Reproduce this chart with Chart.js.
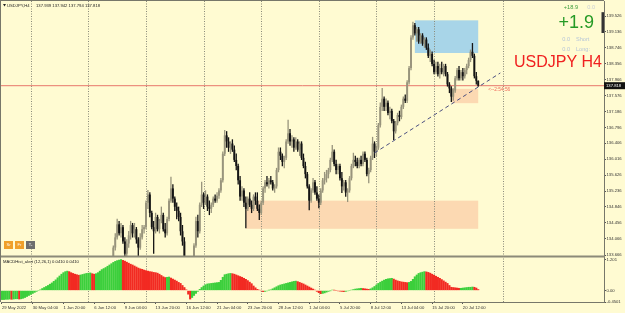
<!DOCTYPE html>
<html>
<head>
<meta charset="utf-8">
<script src="https://cdn.jsdelivr.net/npm/chart.js@4.4.1/dist/chart.umd.min.js"></script>
<style>
  html, body { margin: 0; padding: 0; background: #fffbd2; }
  #wrap { width: 625px; height: 313px; }
</style>
</head>
<body>
<div id="wrap"><canvas id="chart" width="625" height="313"></canvas></div>
<script>
// USDJPY H4 candles, bar index of the first candle that reaches the visible range
const firstCandleBar = 58;
const opens = [
  133.55,133.85,134.10,134.42,134.20,134.35,134.00,133.70,133.95,134.15,
  134.40,134.20,134.30,134.05,133.85,134.10,134.30,134.35,134.95,135.15,
  134.70,134.35,134.25,134.60,134.30,134.50,134.65,134.30,134.20,134.55,
  135.00,135.30,135.05,134.85,134.75,134.60,134.25,134.00,133.55,133.30,
  133.40,133.45,133.55,133.90,134.50,134.25,134.90,135.15,134.95,135.10,
  134.85,134.80,134.90,135.05,135.00,135.12,135.25,135.50,136.15,136.60,
  136.45,136.30,136.40,136.25,136.00,135.85,135.50,135.10,135.25,134.95,
  134.80,135.05,134.90,134.80,135.10,135.00,134.80,134.70,134.95,135.30,
  135.45,135.40,135.50,135.45,135.30,135.35,135.75,136.20,136.10,135.95,
  136.05,136.45,136.65,136.45,136.50,136.30,136.45,136.25,136.40,136.05,
  135.85,135.65,135.35,135.00,135.25,135.45,135.20,135.05,134.95,135.25,
  135.50,135.55,135.65,135.75,136.00,136.20,135.90,135.75,135.85,135.55,
  135.35,135.45,135.20,135.25,135.55,135.85,136.00,135.95,135.85,136.00,
  135.90,136.15,136.00,135.65,135.75,136.05,136.40,136.20,136.30,136.85,
  137.30,137.50,137.30,137.40,137.15,137.20,136.95,136.70,136.90,137.10,
  137.05,137.30,137.50,137.45,137.90,138.25,139.00,139.30,139.10,139.20,
  138.90,139.05,138.85,138.95,138.75,138.55,138.60,138.35,138.15,138.30,
  138.10,138.25,138.15,138.30,138.10,137.85,137.75,137.55,137.70,138.00,
  138.20,138.00,138.15,138.05,138.20,138.30,138.45,138.65,138.55,138.05,
  137.939
];
const highs = [
  133.90,134.20,134.55,134.50,134.45,134.40,134.10,134.05,134.25,134.50,
  134.45,134.45,134.35,134.10,134.20,134.40,134.40,135.00,135.26,135.20,
  134.75,134.50,134.70,134.65,134.55,134.85,134.70,134.45,134.60,135.05,
  135.58,135.40,135.10,134.95,134.85,134.70,134.40,134.10,133.60,133.55,
  133.58,133.60,133.95,134.60,134.65,134.95,135.46,135.20,135.25,135.15,
  135.00,134.95,135.10,135.15,135.20,135.30,135.55,136.20,136.73,136.70,
  136.55,136.45,136.50,136.35,136.15,135.90,135.60,135.35,135.30,135.10,
  135.10,135.20,135.00,135.15,135.20,135.20,134.90,135.00,135.35,135.50,
  135.60,135.55,135.60,135.50,135.40,135.80,136.30,136.30,136.15,136.10,
  136.50,136.98,136.75,136.60,136.55,136.55,136.50,136.45,136.45,136.15,
  135.95,135.70,135.40,135.30,135.55,135.50,135.35,135.15,135.30,135.55,
  135.70,135.75,135.80,136.05,136.36,136.25,136.00,135.90,135.90,135.70,
  135.50,135.50,135.30,135.60,135.90,136.17,136.10,136.05,136.05,136.10,
  136.20,136.20,136.05,135.80,136.10,136.56,136.45,136.35,136.90,137.40,
  137.76,137.55,137.50,137.45,137.30,137.25,137.00,136.95,137.15,137.20,
  137.35,137.55,137.60,137.95,138.30,139.05,139.38,139.35,139.25,139.25,
  139.10,139.10,139.00,139.00,138.85,138.70,138.65,138.45,138.40,138.40,
  138.35,138.40,138.35,138.35,138.15,137.90,137.80,137.75,138.05,138.25,
  138.30,138.20,138.25,138.25,138.35,138.50,138.70,138.86,138.60,138.15,
  137.942
];
const lows = [
  133.50,133.78,134.05,134.15,134.10,133.95,133.62,133.60,133.85,134.05,
  134.10,134.10,133.95,133.65,133.80,134.05,134.20,134.30,134.80,134.60,
  134.30,133.70,134.20,134.25,134.20,134.45,134.25,134.10,134.15,134.50,
  134.95,134.95,134.75,134.55,134.50,134.15,133.90,133.50,133.20,133.10,
  133.05,133.20,133.45,133.85,134.10,134.20,134.85,134.80,134.90,134.75,
  134.65,134.70,134.85,134.95,134.95,135.05,135.20,135.45,136.10,136.30,
  136.20,136.15,136.20,135.95,135.75,135.40,135.00,135.00,134.85,134.33,
  134.75,134.85,134.70,134.75,134.90,134.75,134.53,134.65,134.90,135.20,
  135.35,135.30,135.40,135.25,135.20,135.30,135.70,136.00,135.85,135.80,
  136.00,136.40,136.35,136.30,136.20,136.25,136.20,136.10,136.00,135.80,
  135.55,135.30,134.77,134.95,135.20,135.15,135.00,134.82,134.90,135.20,
  135.40,135.45,135.55,135.70,135.95,135.85,135.65,135.65,135.50,135.19,
  135.25,135.10,134.97,135.20,135.50,135.80,135.85,135.80,135.80,135.85,
  135.85,135.95,135.60,135.43,135.70,136.00,136.05,136.10,136.25,136.80,
  137.20,137.20,137.20,137.10,137.00,136.90,136.49,136.65,136.85,136.95,
  137.00,137.25,137.40,137.40,137.85,138.20,138.95,139.05,138.90,138.85,
  138.85,138.80,138.75,138.70,138.50,138.40,138.30,138.10,138.10,138.05,
  138.00,138.10,138.05,138.05,137.80,137.64,137.42,137.45,137.65,137.95,
  137.95,137.95,137.95,138.00,138.10,138.25,138.40,138.50,138.00,137.85,
  137.794
];
const closes = [
  133.85,134.10,134.42,134.20,134.35,134.00,133.70,133.95,134.15,134.40,
  134.20,134.30,134.05,133.85,134.10,134.30,134.35,134.95,135.15,134.70,
  134.35,134.25,134.60,134.30,134.50,134.65,134.30,134.20,134.55,135.00,
  135.30,135.05,134.85,134.75,134.60,134.25,134.00,133.55,133.30,133.40,
  133.45,133.55,133.90,134.50,134.25,134.90,135.15,134.95,135.10,134.85,
  134.80,134.90,135.05,135.00,135.12,135.25,135.50,136.15,136.60,136.45,
  136.30,136.40,136.25,136.00,135.85,135.50,135.10,135.25,134.95,134.80,
  135.05,134.90,134.80,135.10,135.00,134.80,134.70,134.95,135.30,135.45,
  135.40,135.50,135.45,135.30,135.35,135.75,136.20,136.10,135.95,136.05,
  136.45,136.65,136.45,136.50,136.30,136.45,136.25,136.40,136.05,135.85,
  135.65,135.35,135.00,135.25,135.45,135.20,135.05,134.95,135.25,135.50,
  135.55,135.65,135.75,136.00,136.20,135.90,135.75,135.85,135.55,135.35,
  135.45,135.20,135.25,135.55,135.85,136.00,135.95,135.85,136.00,135.90,
  136.15,136.00,135.65,135.75,136.05,136.40,136.20,136.30,136.85,137.30,
  137.50,137.30,137.40,137.15,137.20,136.95,136.70,136.90,137.10,137.05,
  137.30,137.50,137.45,137.90,138.25,139.00,139.30,139.10,139.20,138.90,
  139.05,138.85,138.95,138.75,138.55,138.60,138.35,138.15,138.30,138.10,
  138.25,138.15,138.30,138.10,137.85,137.75,137.55,137.70,138.00,138.20,
  138.00,138.15,138.05,138.20,138.30,138.45,138.65,138.55,138.05,137.939,
  137.818
];

// MACD histogram, one value per bar from bar 0
const macdHist = [
  -0.36,-0.36,-0.35,-0.35,-0.34,-0.35,-0.34,-0.33,-0.33,-0.34,
  -0.33,-0.31,-0.28,-0.24,-0.20,-0.16,-0.12,-0.08,-0.04,0.00,
  0.03,0.08,0.12,0.16,0.20,0.25,0.30,0.36,0.42,0.50,
  0.57,0.64,0.70,0.74,0.76,0.74,0.70,0.67,0.64,0.62,
  0.60,0.61,0.63,0.65,0.67,0.68,0.69,0.66,0.64,0.66,
  0.70,0.76,0.82,0.86,0.90,0.95,1.00,1.05,1.10,1.14,
  1.17,1.19,1.21,1.18,1.15,1.11,1.07,1.03,1.00,0.96,
  0.92,0.88,0.85,0.83,0.80,0.78,0.76,0.74,0.73,0.71,
  0.70,0.68,0.64,0.59,0.54,0.51,0.52,0.53,0.49,0.45,
  0.41,0.37,0.32,0.28,0.20,0.12,0.03,-0.15,-0.34,-0.28,
  -0.20,-0.12,-0.04,0.05,0.12,0.18,0.23,0.26,0.27,0.28,
  0.29,0.30,0.31,0.32,0.40,0.52,0.62,0.64,0.66,0.67,
  0.66,0.64,0.61,0.58,0.55,0.52,0.48,0.44,0.39,0.33,
  0.27,0.18,0.11,0.05,0.02,-0.02,-0.05,-0.04,-0.02,0.01,
  0.03,0.07,0.11,0.15,0.19,0.22,0.24,0.26,0.28,0.30,
  0.32,0.34,0.36,0.37,0.35,0.32,0.29,0.26,0.22,0.18,
  0.14,0.10,0.06,0.02,-0.04,-0.09,-0.13,-0.12,-0.10,-0.07,
  -0.04,-0.01,0.02,0.01,0.00,-0.02,-0.03,-0.04,-0.05,-0.04,
  -0.02,0.00,0.02,0.04,0.06,0.07,0.08,0.09,0.08,0.07,
  0.06,0.05,0.07,0.11,0.16,0.22,0.28,0.33,0.37,0.41,
  0.44,0.46,0.47,0.48,0.45,0.41,0.38,0.36,0.34,0.33,
  0.32,0.31,0.32,0.36,0.44,0.54,0.61,0.67,0.70,0.72,
  0.74,0.73,0.71,0.68,0.64,0.60,0.56,0.52,0.48,0.43,
  0.38,0.33,0.28,0.20,0.13,0.12,0.11,0.10,0.09,0.09,
  0.10,0.11,0.12,0.13,0.13,0.14,0.13,0.10,0.041
];

const totalSlots = 314;
const lastPrice = 137.818;
const priceTicks = [139.526,139.136,138.746,138.356,137.966,137.576,137.186,136.796,
                    136.406,136.016,135.626,135.236,134.846,134.456,134.066,133.666];
const macdTicks = [1.201, 0, -0.4501];
const macdTickLabels = ['1.201', '0.00', '-0.4501'];
const timeTickBars = [0,16,32,48,64,80,96,112,128,144,160,176,192,208,224,240];
const timeTickLabels = ['29 May 2022','30 May 04:00','1 Jun 20:00','6 Jun 12:00','9 Jun 04:00',
  '13 Jun 20:00','16 Jun 12:00','21 Jun 04:00','23 Jun 20:00','28 Jun 12:00','1 Jul 04:00',
  '5 Jul 20:00','8 Jul 12:00','13 Jul 04:00','15 Jul 20:00','20 Jul 12:00'];
const weekStartBars = [15,45,75,105,135,165,195,225,261];

// drawn objects: supply / demand zones and the trend line
const zoneBars = [[127.1, 248], [215, 248], [234.4, 248]];
const zonePrices = [[135.00, 134.31], [139.42, 138.62], [137.74, 137.39]];
const trendBars = [194, 259.5];
const trendPrices = [136.17, 138.13];

const FONT = "'Liberation Sans', Arial, sans-serif";
const BULL = '#98947c', BEAR = '#141414';
const GREEN = '#3ccf3c', RED = '#f22a22';

const wickData = [], bodyData = [], candleColors = [];
opens.forEach((o, k) => {
  const c = closes[k];
  wickData.push({ x: firstCandleBar + k, y: [lows[k], highs[k]] });
  bodyData.push({ x: firstCandleBar + k, y: [Math.min(o, c), Math.max(o, c)] });
  candleColors.push(c >= o ? BULL : BEAR);
});
const macdData = macdHist.map((v, i) => ({ x: i, y: v }));
const macdColors = macdHist.map((v, i) => (i > 0 && v < macdHist[i - 1]) ? RED : GREEN);

// keep each dataset inside its own pane
const paneClip = {
  id: 'paneClip',
  beforeDatasetDraw(chart, args) {
    const s = chart.scales[args.meta.yAxisID];
    const a = chart.chartArea;
    chart.ctx.save();
    chart.ctx.beginPath();
    chart.ctx.rect(a.left, s.top, a.right - a.left, s.bottom - s.top);
    chart.ctx.clip();
  },
  afterDatasetDraw(chart) { chart.ctx.restore(); }
};

const terminalLook = {
  id: 'terminalLook',
  beforeDraw(chart) {
    const ctx = chart.ctx;
    ctx.save();
    ctx.fillStyle = '#fffbd2';
    ctx.fillRect(0, 0, chart.width, chart.height);
    ctx.restore();
  },
  beforeDatasetsDraw(chart) {
    const { ctx, chartArea: a } = chart;
    const { x, y } = chart.scales;
    const zoneColors = ['#fcd9b2', '#a8d5e8', '#fcd9b2'];
    ctx.save();
    zoneBars.forEach((b, k) => {
      const x0 = x.getPixelForValue(b[0]), x1 = x.getPixelForValue(b[1]);
      const y0 = y.getPixelForValue(zonePrices[k][0]), y1 = y.getPixelForValue(zonePrices[k][1]);
      ctx.fillStyle = zoneColors[k];
      ctx.fillRect(x0, y0, x1 - x0, y1 - y0);
    });
    ctx.strokeStyle = '#8a8a7a';
    ctx.lineWidth = 1;
    ctx.setLineDash([1, 1.5]);
    weekStartBars.forEach(b => {
      const px = Math.round(x.getPixelForValue(b)) + 0.5;
      ctx.beginPath();
      ctx.moveTo(px, a.top);
      ctx.lineTo(px, a.bottom);
      ctx.stroke();
    });
    ctx.restore();
  },
  afterDatasetsDraw(chart) {
    const { ctx, chartArea: a } = chart;
    const { y } = chart.scales;
    ctx.save();
    // pane separator and frame
    ctx.fillStyle = '#8c8a78';
    ctx.fillRect(0, y.bottom - 1.5, a.right + 1, 2);
    ctx.strokeStyle = '#77776a';
    ctx.lineWidth = 1;
    ctx.beginPath();
    ctx.moveTo(0.5, 0); ctx.lineTo(0.5, a.bottom);
    ctx.moveTo(0, 0.5); ctx.lineTo(a.right, 0.5);
    ctx.stroke();
    ctx.restore();
  },
  afterDraw(chart) {
    const { ctx, chartArea: a } = chart;
    const { x, y } = chart.scales;
    const text = (t, px, py, size, color, align, base, weight) => {
      ctx.font = (weight || '') + ' ' + size + 'px ' + FONT;
      ctx.fillStyle = color;
      ctx.textAlign = align || 'left';
      ctx.textBaseline = base || 'middle';
      ctx.fillText(t, px, py);
    };
    ctx.save();
    // header
    ctx.fillStyle = '#222';
    ctx.beginPath();
    ctx.moveTo(3, 4); ctx.lineTo(6, 4); ctx.lineTo(4.5, 6.5); ctx.closePath(); ctx.fill();
    text('USDJPY,H4', 7, 5.5, 4.2, '#222');
    text('137.939 137.942 137.794 137.818', 36, 5.5, 4.2, '#222');
    text('MACDHist_alert (12,26,1) 0.0410 0.0410', 3, 262, 4.2, '#222');

    // current price tag on the axis
    const py = y.getPixelForValue(lastPrice);
    ctx.fillStyle = '#111';
    ctx.fillRect(a.right, py - 3.5, 21, 7);
    text(lastPrice.toFixed(3), a.right + 2, py + 0.3, 4.2, '#fff');
    ctx.fillStyle = '#333';
    ctx.fillRect(a.right - 2.5, y.getPixelForValue(139.62), 2.5,
                 y.getPixelForValue(139.11) - y.getPixelForValue(139.62));

    // countdown next to the last bar
    text('<--2:54:56', x.getPixelForValue(firstCandleBar + closes.length - 1) + 10, py + 3.5, 4.8, '#f06a5a');

    // signal panel top right
    text('+18.9', 578, 7, 5.6, '#3c9c3c', 'right');
    text('0.0', 595, 7, 5.6, '#c9cfd6', 'right');
    text('+1.9', 594, 28, 18, '#259a25', 'right', 'alphabetic');
    text('0.0', 570, 39, 5.6, '#b6c6d8', 'right');
    text('Short', 576, 39, 5.6, '#b6c6d8');
    text('0.0', 570, 49, 5.6, '#b6c6d8', 'right');
    text('Long:', 576, 49, 5.6, '#b6c6d8');
    text('USDJPY H4', 602, 67, 16, '#f02020', 'right', 'alphabetic');

    // chart buttons
    const btn = (label, bx, color) => {
      ctx.fillStyle = color;
      ctx.fillRect(bx, 241, 9, 8);
      text(label, bx + 4.5, 245.2, 4, '#fff', 'center');
    };
    btn('Sr', 4, '#f0a02a');
    btn('Fr', 15, '#f0a02a');
    btn('T-', 26, '#6e6e6e');
    ctx.restore();
  }
};

const axisFont = { family: FONT, size: 4.2 };

new Chart(document.getElementById('chart'), {
  type: 'bar',
  data: {
    datasets: [
      {
        type: 'line', label: 'trend', yAxisID: 'y', order: 0,
        data: trendBars.map((b, k) => ({ x: b, y: trendPrices[k] })),
        borderColor: '#4c5080', borderWidth: 1, borderDash: [4, 3], pointRadius: 0
      },
      {
        type: 'line', label: 'bid', yAxisID: 'y', order: 5,
        data: [{ x: -0.5, y: lastPrice }, { x: totalSlots - 0.5, y: lastPrice }],
        borderColor: '#e8776c', borderWidth: 1, pointRadius: 0
      },
      {
        label: 'wicks', yAxisID: 'y', order: 3, data: wickData, grouped: false,
        backgroundColor: candleColors, barThickness: 1, inflateAmount: 0.15, minBarLength: 1
      },
      {
        label: 'bodies', yAxisID: 'y', order: 2, data: bodyData, grouped: false,
        backgroundColor: candleColors, barPercentage: 1, categoryPercentage: 1,
        inflateAmount: 0, minBarLength: 1
      },
      {
        label: 'MACD', yAxisID: 'y2', order: 3, data: macdData, grouped: false,
        backgroundColor: macdColors, barPercentage: 0.9, categoryPercentage: 1,
        inflateAmount: 0.2
      }
    ]
  },
  options: {
    responsive: false,
    animation: false,
    devicePixelRatio: 1,
    events: [],
    layout: { padding: { top: 1, left: 1, right: 0, bottom: 0 } },
    plugins: { legend: { display: false }, tooltip: { enabled: false } },
    scales: {
      x: {
        type: 'linear', position: 'bottom', min: -0.5, max: totalSlots - 0.5,
        offset: false, bounds: 'data',
        afterBuildTicks: s => { s.ticks = timeTickBars.map(v => ({ value: v })); },
        afterFit: s => { s.height = 11; s.paddingLeft = 0; s.paddingRight = 0; },
        ticks: {
          callback: (v, i) => timeTickLabels[i], align: 'start', autoSkip: false,
          maxRotation: 0, minRotation: 0, padding: 1, font: axisFont, color: '#333'
        },
        grid: { offset: false, drawOnChartArea: false, tickLength: 2, color: '#555' },
        border: { display: true, color: '#77776a' }
      },
      y: {
        type: 'linear', position: 'right', stack: 'panes', stackWeight: 256,
        min: 133.619, max: 139.894, bounds: 'data', beginAtZero: false,
        afterBuildTicks: s => { s.ticks = priceTicks.map(v => ({ value: v })); },
        afterFit: s => { s.width = 21; s.paddingTop = 0; s.paddingBottom = 0; },
        ticks: { callback: v => v.toFixed(3), padding: 0.5, font: axisFont, color: '#333' },
        grid: { drawOnChartArea: false, tickLength: 2, color: '#555' },
        border: { display: true, color: '#77776a' }
      },
      y2: {
        type: 'linear', position: 'right', stack: 'panes', stackWeight: 45,
        min: -0.45, max: 1.306, bounds: 'data', beginAtZero: false,
        afterBuildTicks: s => { s.ticks = macdTicks.map(v => ({ value: v })); },
        afterFit: s => { s.width = 21; s.paddingTop = 0; s.paddingBottom = 0; },
        ticks: { callback: (v, i) => macdTickLabels[i], padding: 0.5, font: axisFont, color: '#333' },
        grid: { drawOnChartArea: false, tickLength: 2, color: '#555' },
        border: { display: true, color: '#77776a' }
      }
    }
  },
  plugins: [paneClip, terminalLook]
});
</script>
</body>
</html>
